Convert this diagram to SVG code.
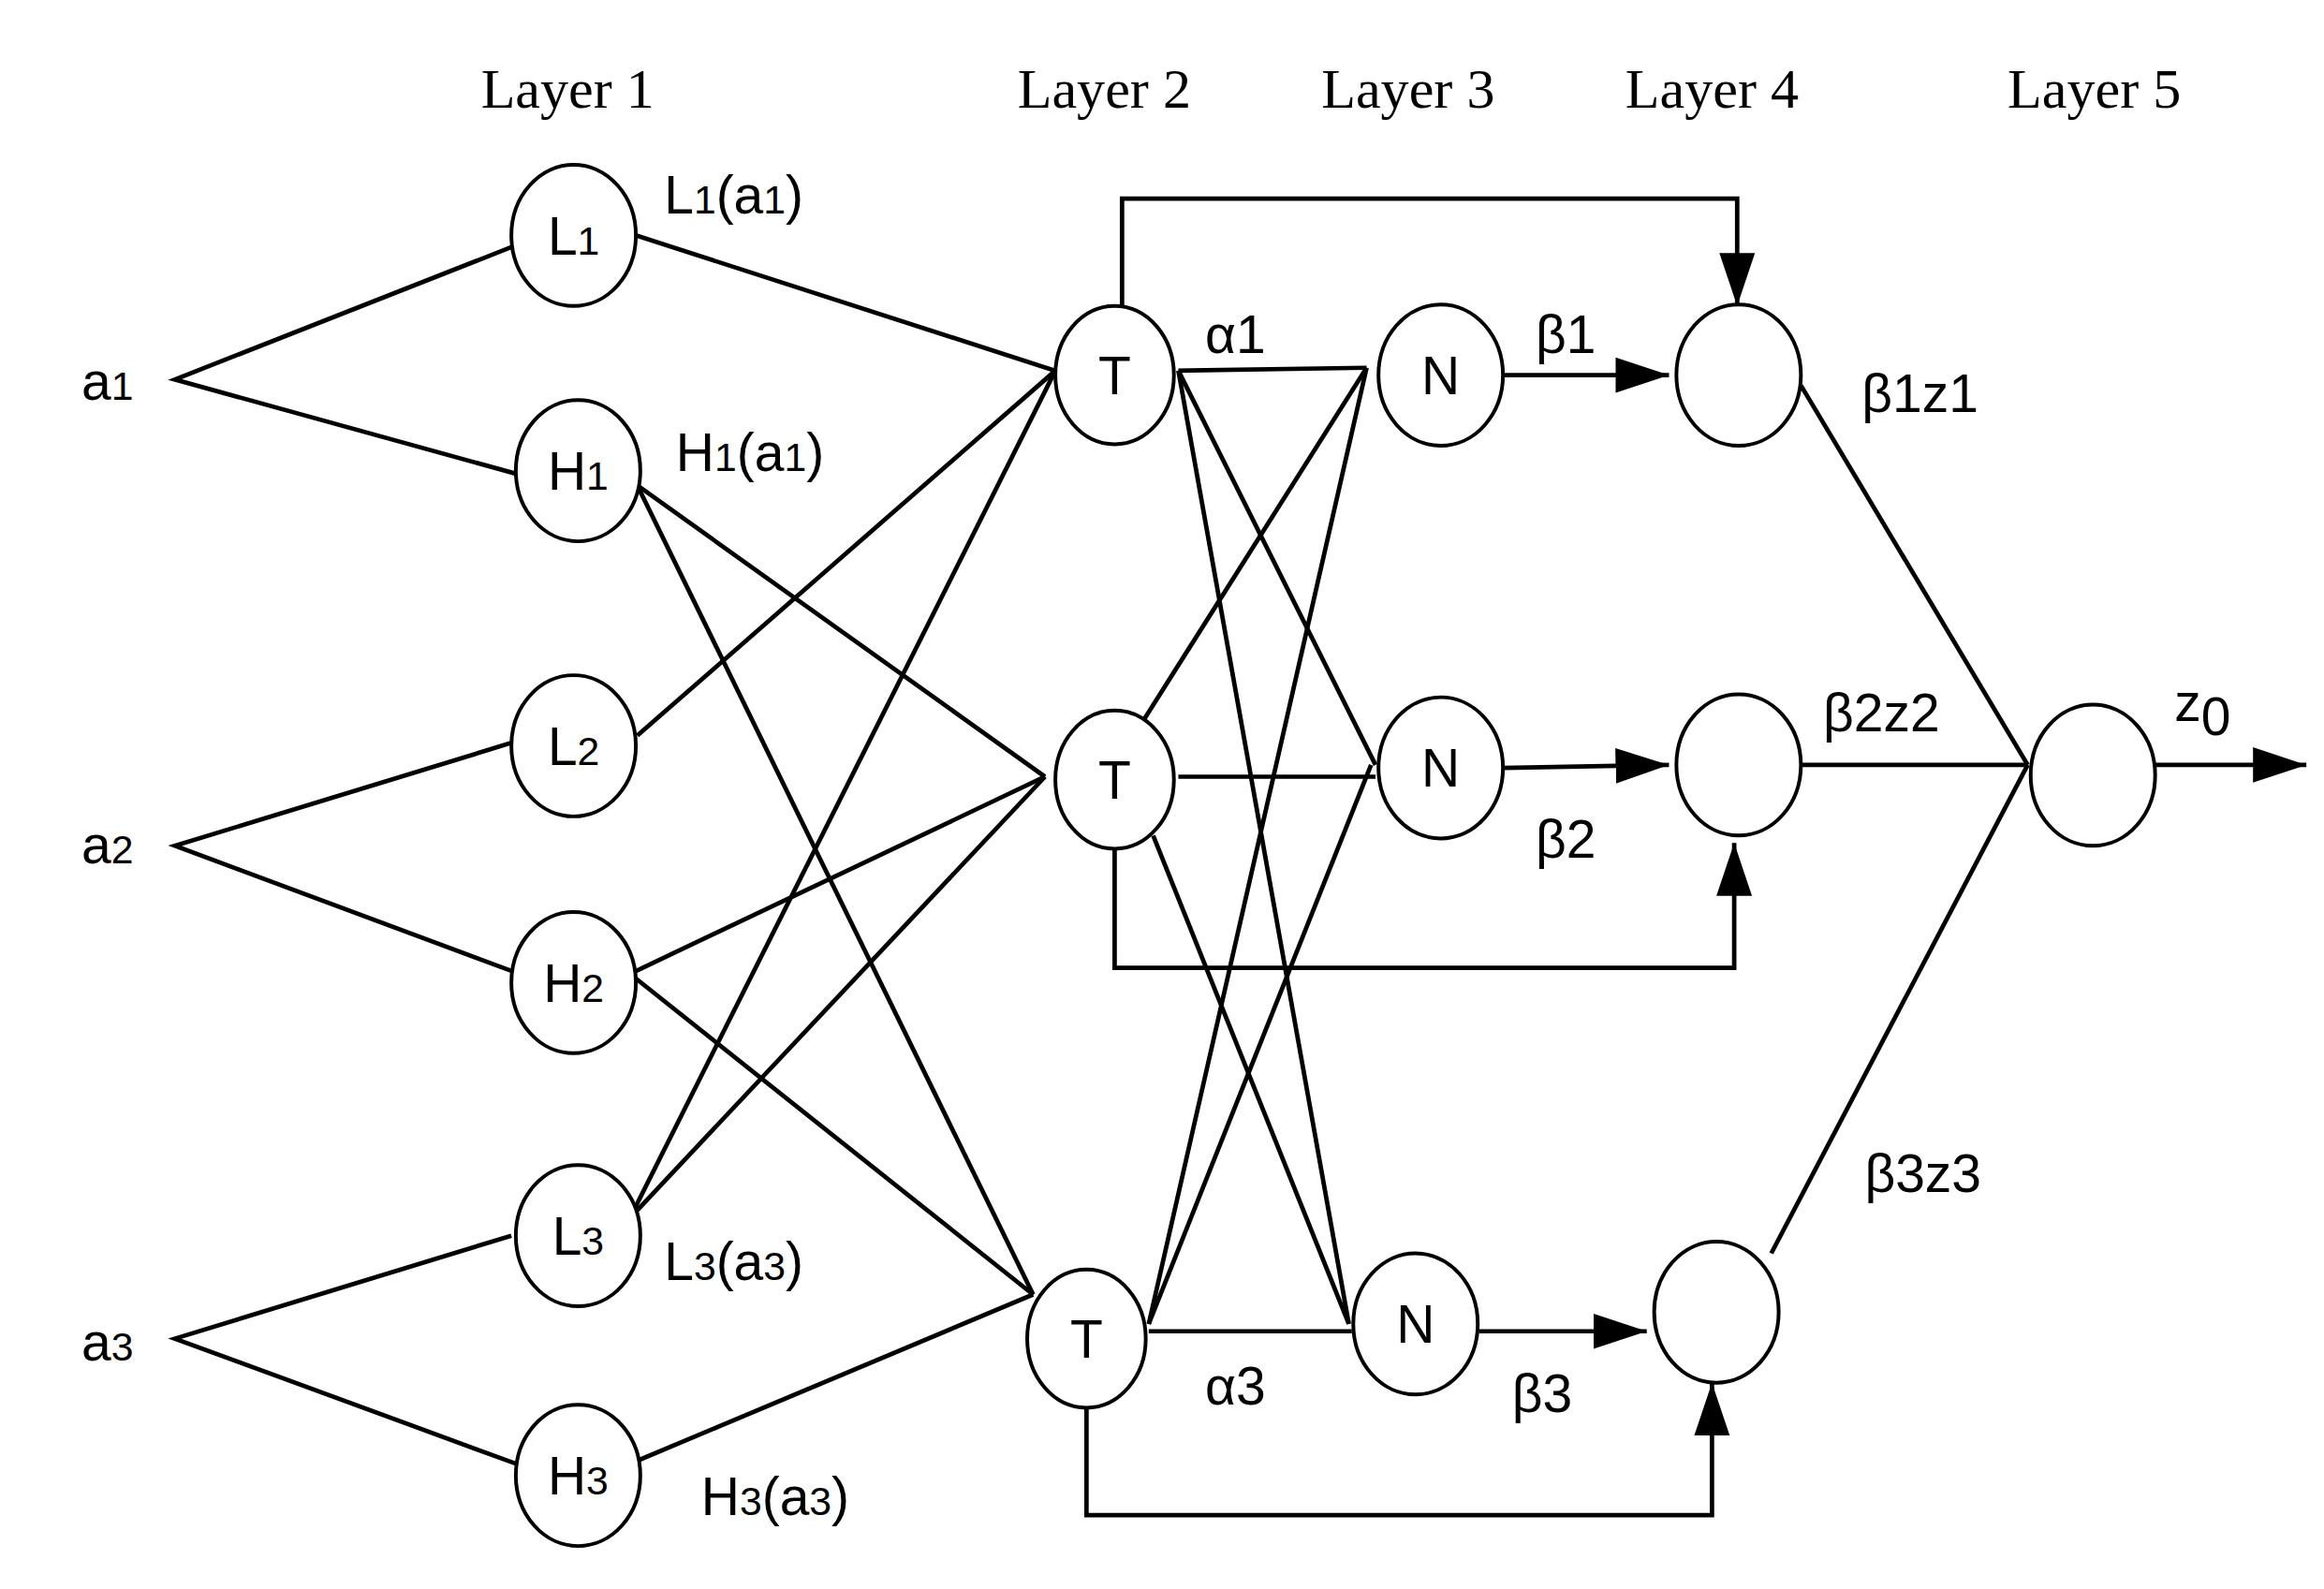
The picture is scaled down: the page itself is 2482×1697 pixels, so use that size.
<svg xmlns="http://www.w3.org/2000/svg" width="2482" height="1697" viewBox="0 0 2482 1697">
<style>
.n{fill:#fff;stroke:#000;stroke-width:2.5}
.e line,.e polyline{stroke:#000;stroke-width:3;fill:none}
.t{font-family:"Liberation Sans",Arial,sans-serif;font-size:36px;fill:#000}
.lay{font-family:"Liberation Serif","Times New Roman",serif;font-size:38px;fill:#000;text-anchor:middle}
.s{font-size:27px}
.c{text-anchor:middle}
</style>
<defs>
<marker id="ah" markerUnits="userSpaceOnUse" markerWidth="40" markerHeight="30" refX="36" refY="12" orient="auto">
<path d="M0,0 L36,12 L0,24 Z" fill="#000"/>
</marker>
</defs>
<rect width="2482" height="1697" fill="#fff"/>
<g transform="scale(1.583 1.571)">
<g id="layers">
<text class="lay" x="383" y="73">Layer 1</text>
<text class="lay" x="745" y="73">Layer 2</text>
<text class="lay" x="950" y="73">Layer 3</text>
<text class="lay" x="1155" y="73">Layer 4</text>
<text class="lay" x="1413" y="73">Layer 5</text>
</g>
<g id="connectors" class="e">
<polyline points="345,168 118,258 348,322"/>
<polyline points="345,505 118,575 345,660"/>
<polyline points="345,840 118,910 348,995"/>
<line x1="429" y1="160" x2="712" y2="252"/>
<line x1="430" y1="330" x2="705" y2="528"/>
<line x1="430" y1="330" x2="697" y2="880"/>
<line x1="430" y1="500" x2="712" y2="252"/>
<line x1="425" y1="662" x2="705" y2="528"/>
<line x1="425" y1="662" x2="697" y2="880"/>
<line x1="425" y1="828" x2="712" y2="252"/>
<line x1="425" y1="828" x2="705" y2="528"/>
<line x1="430" y1="993" x2="697" y2="880"/>
<line x1="795" y1="252" x2="922" y2="250"/>
<line x1="795" y1="252" x2="928" y2="520"/>
<line x1="795" y1="252" x2="910" y2="900"/>
<line x1="770" y1="492" x2="922" y2="250"/>
<line x1="795" y1="528" x2="928" y2="528"/>
<line x1="778" y1="568" x2="910" y2="900"/>
<line x1="775" y1="900" x2="922" y2="250"/>
<line x1="775" y1="900" x2="925" y2="520"/>
<line x1="775" y1="905" x2="912" y2="905"/>
<line x1="1014" y1="255" x2="1126" y2="255" marker-end="url(#ah)"/>
<line x1="1014" y1="522" x2="1126" y2="520" marker-end="url(#ah)"/>
<line x1="998" y1="905" x2="1111" y2="905" marker-end="url(#ah)"/>
<polyline points="757,208 757,135 1172,135 1172,208" marker-end="url(#ah)"/>
<polyline points="752,577 752,658 1170,658 1170,573" marker-end="url(#ah)"/>
<polyline points="733,957 733,1030 1155,1030 1155,940" marker-end="url(#ah)"/>
<line x1="1215" y1="262" x2="1368" y2="520"/>
<line x1="1215" y1="520" x2="1368" y2="520"/>
<line x1="1195" y1="852" x2="1368" y2="520"/>
<line x1="1453" y1="520" x2="1556" y2="520" marker-end="url(#ah)"/>
</g>
<g id="inputs" class="t">
<text x="55" y="272">a<tspan class="s">1</tspan></text>
<text x="55" y="587">a<tspan class="s">2</tspan></text>
<text x="55" y="925">a<tspan class="s">3</tspan></text>
</g>
<g id="L1"><ellipse class="n" cx="387" cy="160" rx="42" ry="48"/><text class="t c" x="387" y="173">L<tspan class="s">1</tspan></text></g>
<g id="H1"><ellipse class="n" cx="390" cy="320" rx="42" ry="48"/><text class="t c" x="390" y="333">H<tspan class="s">1</tspan></text></g>
<g id="L2"><ellipse class="n" cx="387" cy="507" rx="42" ry="48"/><text class="t c" x="387" y="520">L<tspan class="s">2</tspan></text></g>
<g id="H2"><ellipse class="n" cx="387" cy="668" rx="42" ry="48"/><text class="t c" x="387" y="681">H<tspan class="s">2</tspan></text></g>
<g id="L3"><ellipse class="n" cx="390" cy="840" rx="42" ry="48"/><text class="t c" x="390" y="853">L<tspan class="s">3</tspan></text></g>
<g id="H3"><ellipse class="n" cx="390" cy="1003" rx="42" ry="48"/><text class="t c" x="390" y="1016">H<tspan class="s">3</tspan></text></g>
<g id="T1"><ellipse class="n" cx="752" cy="255" rx="40" ry="47"/><text class="t c" x="752" y="268">T</text></g>
<g id="T2"><ellipse class="n" cx="752" cy="530" rx="40" ry="47"/><text class="t c" x="752" y="543">T</text></g>
<g id="T3"><ellipse class="n" cx="733" cy="910" rx="40" ry="47"/><text class="t c" x="733" y="923">T</text></g>
<g id="N1"><ellipse class="n" cx="972" cy="255" rx="42" ry="48"/><text class="t c" x="972" y="268">N</text></g>
<g id="N2"><ellipse class="n" cx="972" cy="522" rx="42" ry="48"/><text class="t c" x="972" y="535">N</text></g>
<g id="N3"><ellipse class="n" cx="955" cy="900" rx="42" ry="48"/><text class="t c" x="955" y="913">N</text></g>
<g id="S1"><ellipse class="n" cx="1173" cy="255" rx="42" ry="48"/></g>
<g id="S2"><ellipse class="n" cx="1173" cy="520" rx="42" ry="48"/></g>
<g id="S3"><ellipse class="n" cx="1158" cy="892" rx="42" ry="48"/></g>
<g id="OUT"><ellipse class="n" cx="1412" cy="527" rx="42" ry="48"/></g>
<g id="labels" class="t">
<text x="448" y="145">L<tspan class="s">1</tspan>(a<tspan class="s">1</tspan>)</text>
<text x="456" y="320">H<tspan class="s">1</tspan>(a<tspan class="s">1</tspan>)</text>
<text x="448" y="870">L<tspan class="s">3</tspan>(a<tspan class="s">3</tspan>)</text>
<text x="473" y="1030">H<tspan class="s">3</tspan>(a<tspan class="s">3</tspan>)</text>
<text x="813" y="240">α1</text>
<text x="1036" y="240">β1</text>
<text x="1256" y="280">β1z1</text>
<text x="1230" y="497">β2z2</text>
<text x="1036" y="583">β2</text>
<text x="1467" y="490">z<tspan dy="10">0</tspan></text>
<text x="813" y="955">α3</text>
<text x="1020" y="960">β3</text>
<text x="1258" y="810">β3z3</text>
</g>
</g>
</svg>
